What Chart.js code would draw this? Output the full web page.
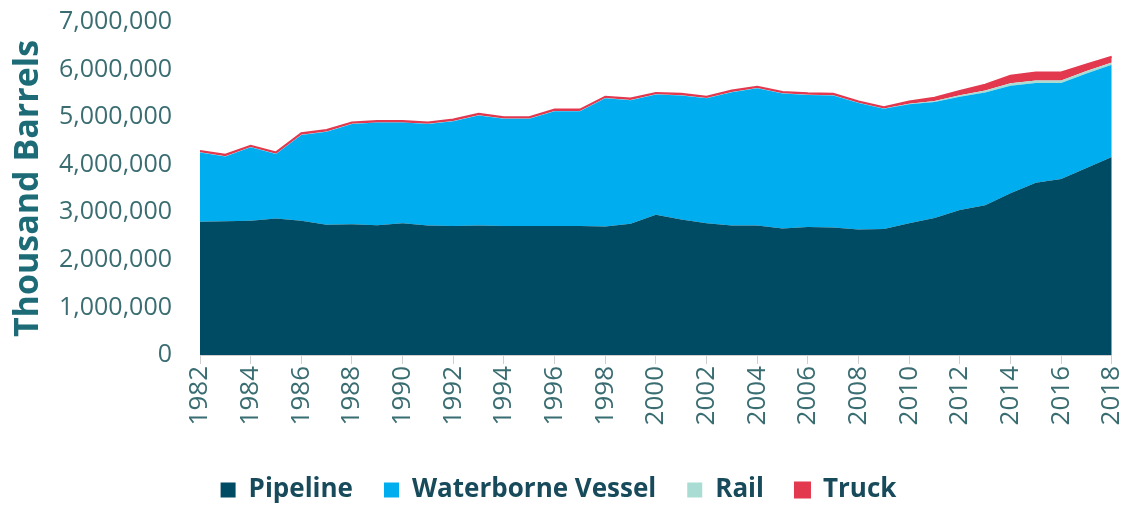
<!DOCTYPE html>
<html>
<head>
<meta charset="utf-8">
<title>Crude oil movements by mode</title>
<script src="https://cdn.jsdelivr.net/npm/chart.js@4/dist/chart.umd.min.js"></script>
<style>
  html, body { margin: 0; padding: 0; background: #ffffff; }
  #wrap { width: 1145px; height: 508px; position: relative; }
</style>
</head>
<body>
<div id="wrap"><canvas id="modes"></canvas></div>
<script>
// === DATOS (miles de barriles) ===
const years = [1982, 1983, 1984, 1985, 1986, 1987, 1988, 1989, 1990, 1991, 1992, 1993,
  1994, 1995, 1996, 1997, 1998, 1999, 2000, 2001, 2002, 2003, 2004, 2005, 2006, 2007,
  2008, 2009, 2010, 2011, 2012, 2013, 2014, 2015, 2016, 2017, 2018];

const pipeline = [2800000, 2810000, 2820000, 2870000, 2820000, 2740000, 2750000, 2730000,
  2770000, 2720000, 2710000, 2720000, 2710000, 2710000, 2710000, 2710000, 2700000, 2760000,
  2950000, 2850000, 2770000, 2720000, 2720000, 2660000, 2690000, 2680000, 2640000, 2650000,
  2770000, 2880000, 3050000, 3150000, 3400000, 3620000, 3700000, 3930000, 4160000];

const waterborne = [1455000, 1365000, 1545000, 1355000, 1805000, 1955000, 2105000, 2155000,
  2115000, 2135000, 2205000, 2315000, 2255000, 2255000, 2415000, 2415000, 2695000, 2595000,
  2525000, 2605000, 2625000, 2805000, 2885000, 2835000, 2775000, 2775000, 2655000, 2525000,
  2500000, 2440000, 2380000, 2370000, 2260000, 2100000, 2020000, 1990000, 1940000];

const rail = [5000, 5000, 5000, 5000, 5000, 5000, 5000, 5000, 5000, 5000, 5000, 5000,
  5000, 5000, 5000, 5000, 5000, 5000, 5000, 5000, 5000, 5000, 5000, 5000, 5000, 5000,
  5000, 5000, 10000, 20000, 30000, 40000, 50000, 50000, 50000, 50000, 50000];

const truck = [30000, 30000, 30000, 30000, 30000, 30000, 30000, 30000, 30000, 30000, 30000,
  30000, 30000, 30000, 30000, 30000, 30000, 30000, 30000, 30000, 30000, 30000, 30000, 30000,
  30000, 30000, 30000, 30000, 50000, 70000, 90000, 120000, 160000, 170000, 170000, 140000, 120000];

const yTicks = [0, 1000000, 2000000, 3000000, 4000000, 5000000, 6000000, 7000000];

// === COLORES ===
const C_PIPE = "#004b64";
const C_WATER = "#00aeef";
const C_RAIL = "#a9dcd3";
const C_TRUCK = "#e3394f";
const C_TICK = "#3a6d72";

function points(arr) {
  return arr.map((v, i) => ({ x: years[i], y: v }));
}

function area(label, arr, color, fill, bw) {
  return {
    label: label,
    data: points(arr),
    backgroundColor: color,
    borderColor: color,
    borderWidth: bw,
    pointRadius: 0,
    tension: 0,
    fill: fill,
  };
}

const chart = new Chart(document.getElementById("modes"), {
  type: "line",
  data: {
    datasets: [
      area("Pipeline", pipeline, C_PIPE, "origin", 0),
      area("Waterborne Vessel", waterborne, C_WATER, "-1", 0),
      area("Rail", rail, C_RAIL, "-1", 0),
      area("Truck", truck, C_TRUCK, "-1", 2),
    ],
  },
  options: {
    responsive: true,
    maintainAspectRatio: false,
    animation: false,
    layout: { padding: { top: 22, right: 28, left: 0, bottom: 0 } },
    plugins: {
      tooltip: { enabled: false },
      legend: {
        position: "bottom",
        maxHeight: 62,
        labels: {
          boxWidth: 15,
          boxHeight: 15,
          padding: 31,
          color: "#174a5a",
          font: { family: "'Open Sans', sans-serif", size: 26, weight: "bold" },
        },
      },
    },
    scales: {
      x: {
        type: "linear",
        min: 1982,
        max: 2018,
        afterFit: (scale) => { scale.height = 91; },
        grid: { drawOnChartArea: false, drawTicks: true, tickLength: 9, color: "#cfcfcf" },
        border: { display: true, color: "#cfcfcf" },
        ticks: {
          stepSize: 2,
          minRotation: 90,
          maxRotation: 90,
          padding: 2,
          color: C_TICK,
          font: { family: "'Open Sans', sans-serif", size: 26 },
          callback: (v) => String(v),
        },
      },
      y: {
        stacked: true,
        min: 0,
        max: 7000000,
        afterFit: (scale) => {
          scale.width = 200;
          // sin margen extra arriba/abajo por el padding de las etiquetas
          scale.paddingTop = 0;
          scale.paddingBottom = 0;
        },
        afterBuildTicks: (scale) => { scale.ticks = yTicks.map((v) => ({ value: v })); },
        grid: { display: false, drawTicks: false },
        border: { display: false },
        ticks: {
          padding: 28,
          color: C_TICK,
          font: { family: "'Open Sans', sans-serif", size: 25 },
          callback: (v) => v.toLocaleString("en-US"),
        },
        title: {
          display: true,
          text: "Thousand Barrels",
          color: "#1c6b76",
          padding: { top: 8, bottom: 0 },
          font: { family: "'Open Sans', sans-serif", size: 34, weight: "bold" },
        },
      },
    },
  },
});
</script>
</body>
</html>
